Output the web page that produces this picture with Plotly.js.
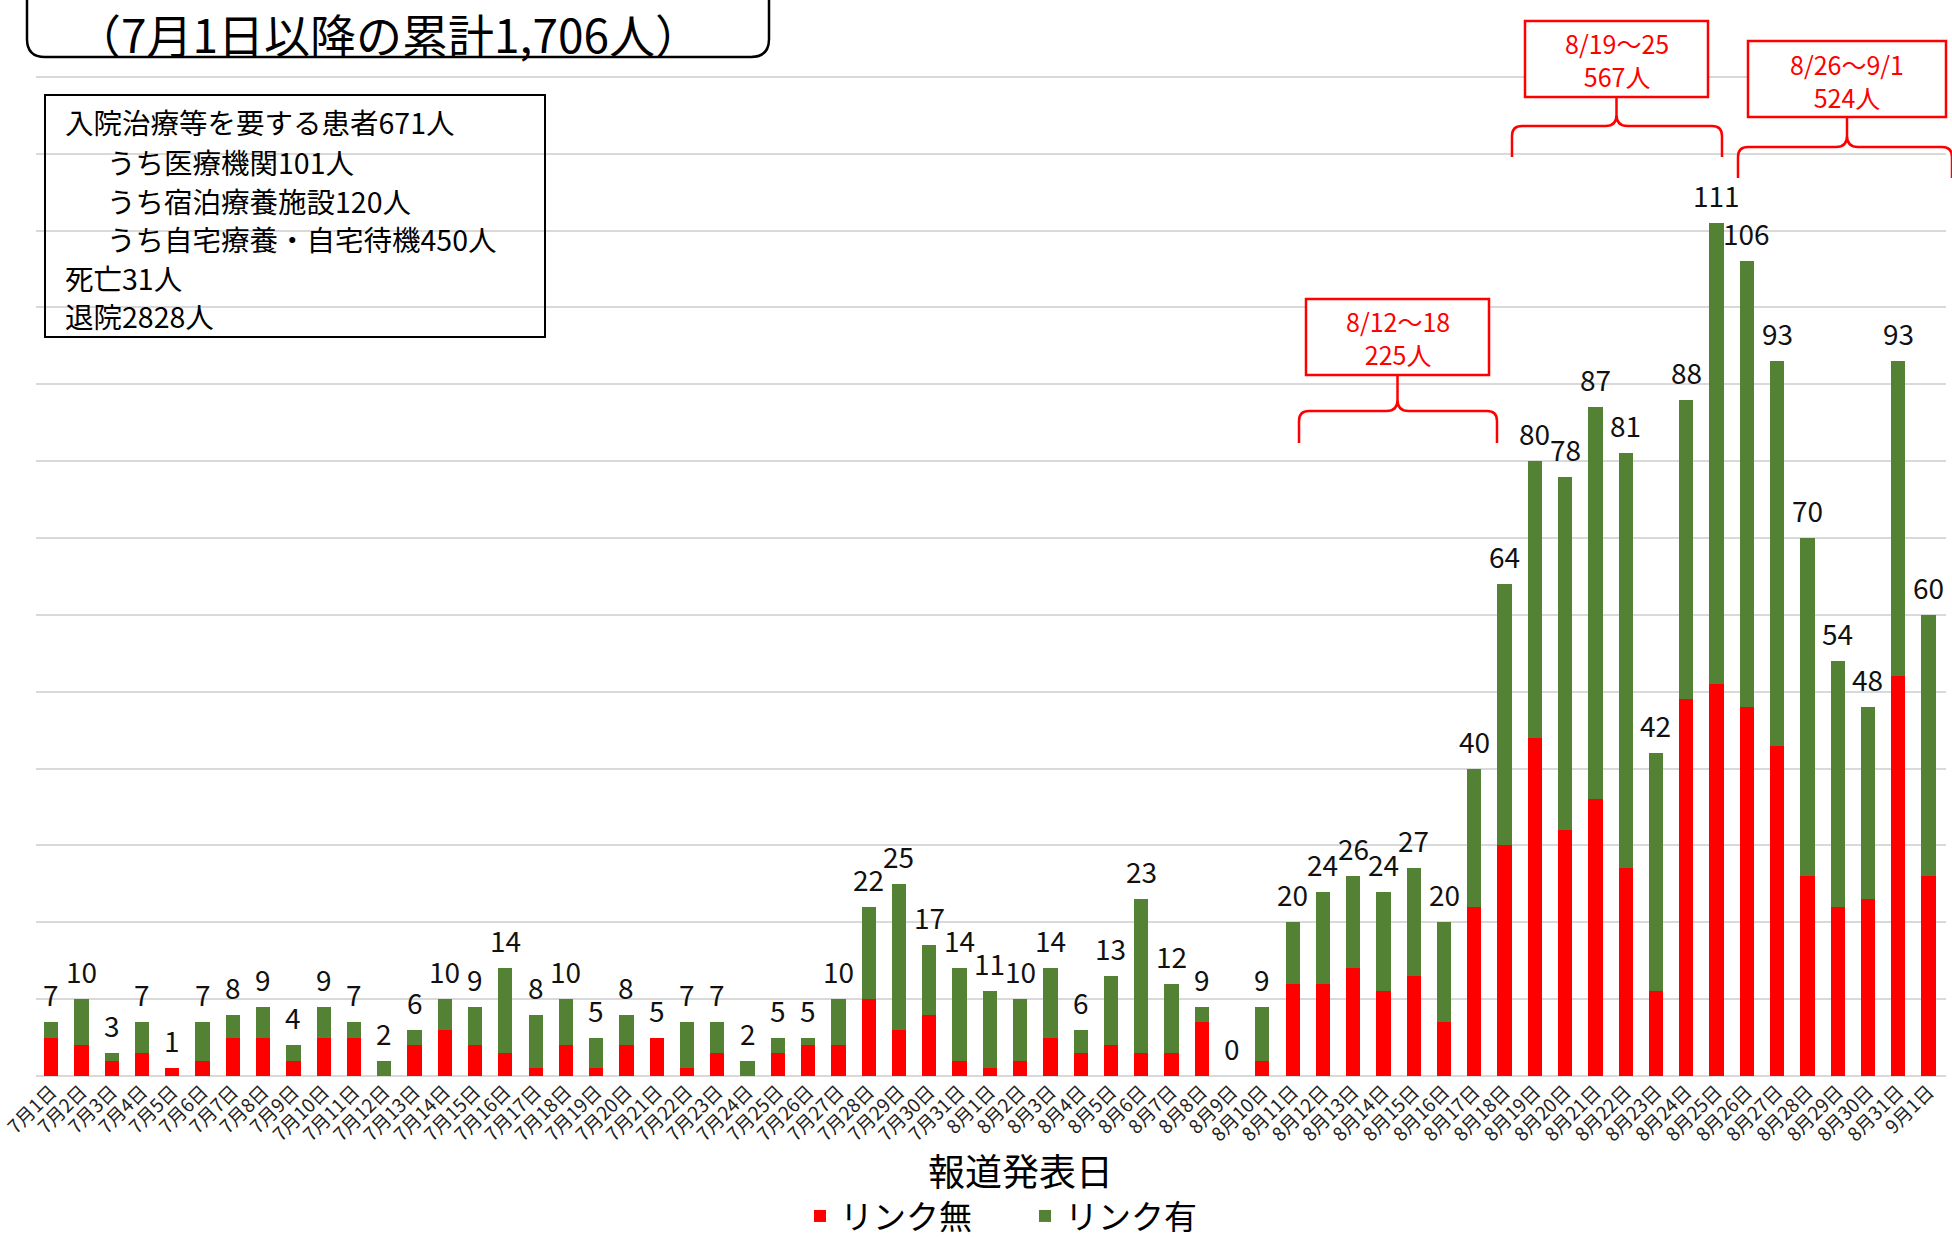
<!DOCTYPE html>
<html><head><meta charset="utf-8">
<script src="https://cdn.plot.ly/plotly-3.0.1.min.js"></script>
<style>html,body{margin:0;padding:0;background:#fff;} #chart{width:1952px;height:1239px;}</style>
</head><body><div id="chart"></div>
<script>
const dates = ["7月1日","7月2日","7月3日","7月4日","7月5日","7月6日","7月7日","7月8日","7月9日","7月10日",
"7月11日","7月12日","7月13日","7月14日","7月15日","7月16日","7月17日","7月18日","7月19日","7月20日",
"7月21日","7月22日","7月23日","7月24日","7月25日","7月26日","7月27日","7月28日","7月29日","7月30日","7月31日",
"8月1日","8月2日","8月3日","8月4日","8月5日","8月6日","8月7日","8月8日","8月9日","8月10日",
"8月11日","8月12日","8月13日","8月14日","8月15日","8月16日","8月17日","8月18日","8月19日","8月20日",
"8月21日","8月22日","8月23日","8月24日","8月25日","8月26日","8月27日","8月28日","8月29日","8月30日","8月31日",
"9月1日"];
const unlinked = [5,4,2,3,1,2,5,5,2,5, 5,0,4,6,4,3,1,4,1,4, 5,1,3,0,3,4,4,10,6,8,2,
 1,2,5,3,4,3,3,7,0,2, 12,12,14,11,13,7,22,30,44,32, 36,27,11,49,51,48,43,26,22,23,52, 26];
const linked = [2,6,1,4,0,5,3,4,2,4, 2,2,2,4,5,11,7,6,4,4, 0,6,4,2,2,1,6,12,19,9,12,
 10,8,9,3,9,20,9,2,0,7, 8,12,12,13,14,13,18,34,36,46, 51,54,31,39,60,58,50,44,32,25,41, 34];
const totals = [7,10,3,7,1,7,8,9,4,9, 7,2,6,10,9,14,8,10,5,8, 5,7,7,2,5,5,10,22,25,17,14,
 11,10,14,6,13,23,12,9,0,9, 20,24,26,24,27,20,40,64,80,78, 87,81,42,88,111,106,93,70,54,48,93, 60];
const seriesNames = ["リンク無","リンク有"];
const titleText = "（7月1日以降の累計1,706人）";
const infoLines = ["入院治療等を要する患者671人","うち医療機関101人","うち宿泊療養施設120人","うち自宅療養・自宅待機450人","死亡31人","退院2828人"];
const infoIndent = [false,true,true,true,false,false];
const weekRanges = ["8/12～18","8/19～25","8/26～9/1"];
const weekTotals = ["225人","567人","524人"];
const xTitle = "報道発表日";

// pixel geometry helpers
const L=36, R=1946, T=0, B=1076;
const px = x => (x-L)/(R-L);
const py = y => (B-y)/(B-T);
const P = (x,y) => px(x).toFixed(5)+","+py(y).toFixed(5);

const JP = "Noto Sans CJK JP, Noto Sans, sans-serif";
const RED = "#FF0000", GREEN = "#548235";

const traces = [
 {type:"bar", name:seriesNames[0], x:dates, y:unlinked, marker:{color:RED}, hoverinfo:"x+y"},
 {type:"bar", name:seriesNames[1], x:dates, y:linked, marker:{color:GREEN}, hoverinfo:"x+y"}
];

const annotations = [];
const shapes = [];

// data labels
dates.forEach((d,i)=>{
 annotations.push({x:d, y:totals[i], xref:"x", yref:"y", text:String(totals[i]), showarrow:false,
  yanchor:"middle", yshift:28, font:{family:JP, size:28, color:"#111"}});
});

// title box
const tb = {l:27, r:769, b:57, r0:18};
shapes.push({type:"path", xref:"paper", yref:"paper",
 path:"M"+P(tb.l,-20)+" L"+P(tb.l,tb.b-tb.r0)+" Q"+P(tb.l,tb.b)+" "+P(tb.l+tb.r0,tb.b)+
 " L"+P(tb.r-tb.r0,tb.b)+" Q"+P(tb.r,tb.b)+" "+P(tb.r,tb.b-tb.r0)+" L"+P(tb.r,-20),
 line:{color:"#000", width:2.5}});
annotations.push({xref:"paper", yref:"paper", x:px(388), y:py(33), text:titleText, showarrow:false,
 xanchor:"center", yanchor:"middle", font:{family:JP, size:46, color:"#000"}});

// info box
shapes.push({type:"rect", xref:"paper", yref:"paper", x0:px(45), x1:px(545), y0:py(95), y1:py(337),
 line:{color:"#000", width:2}, fillcolor:"rgba(255,255,255,0)"});
const infoY = [122,161,200,239,277,316];
infoLines.forEach((t,i)=>{
 annotations.push({xref:"paper", yref:"paper", x:px(infoIndent[i]?105:63), y:py(infoY[i]), text:t, showarrow:false,
  xanchor:"left", yanchor:"middle", font:{family:JP, size:28.5, color:"#000"}});
});

// weekly boxes with braces
const boxes = [
 {x0:1306, x1:1489, y0:299, y1:375, h:411, xl:1299, xr:1497, bot:443},
 {x0:1525, x1:1708, y0:21, y1:97, h:126, xl:1512, xr:1722, bot:157},
 {x0:1748, x1:1946, y0:41, y1:117, h:147, xl:1738, xr:1952, bot:178}
];
boxes.forEach((b,i)=>{
 const cx=(b.x0+b.x1)/2;
 shapes.push({type:"rect", xref:"paper", yref:"paper", x0:px(b.x0), x1:px(b.x1), y0:py(b.y0), y1:py(b.y1),
  line:{color:RED, width:2.5}, fillcolor:"#fff", layer:"above"});
 const r=10, s=11;
 const path = "M"+P(b.xl,b.bot)+" L"+P(b.xl,b.h+r)+" Q"+P(b.xl,b.h)+" "+P(b.xl+r,b.h)+
  " L"+P(cx-s,b.h)+" Q"+P(cx,b.h)+" "+P(cx,b.h-s)+" L"+P(cx,b.y1)+
  " M"+P(cx,b.h-s)+" Q"+P(cx,b.h)+" "+P(cx+s,b.h)+" L"+P(b.xr-r,b.h)+" Q"+P(b.xr,b.h)+" "+P(b.xr,b.h+r)+
  " L"+P(b.xr,b.bot);
 shapes.push({type:"path", xref:"paper", yref:"paper", path:path, line:{color:RED, width:2.5}});
 annotations.push({xref:"paper", yref:"paper", x:px(cx), y:py((b.y0+b.y1)/2+1), text:weekRanges[i]+"<br>"+weekTotals[i],
  showarrow:false, xanchor:"center", yanchor:"middle", align:"center", font:{family:JP, size:25, color:RED}});
});

// x-axis title
annotations.push({xref:"paper", yref:"paper", x:px(1021), y:py(1170), text:xTitle, showarrow:false,
 xanchor:"center", yanchor:"middle", font:{family:JP, size:37, color:"#000"}});

const layout = {
 width:1952, height:1239,
 margin:{l:L, r:1952-R, t:T, b:1239-B, autoexpand:false},
 paper_bgcolor:"#fff", plot_bgcolor:"#fff",
 barmode:"stack", bargap:0.53,
 font:{family:JP, color:"#000"},
 xaxis:{type:"category", tickangle:-45, showgrid:false, showline:false, ticks:"",
  tickfont:{family:JP, size:19, color:"#222"}, fixedrange:true},
 yaxis:{range:[0,140], dtick:10, showgrid:true, gridcolor:"#d9d9d9", gridwidth:2,
  zeroline:true, zerolinecolor:"#d9d9d9", zerolinewidth:2, showticklabels:false, ticks:"", fixedrange:true},
 showlegend:true,
 legend:{orientation:"h", x:px(800), xanchor:"left", y:py(1216), yanchor:"middle", entrywidth:180,
  traceorder:"normal", font:{family:JP, size:33, color:"#000"}, bgcolor:"rgba(0,0,0,0)"},
 shapes:shapes, annotations:annotations
};
Plotly.newPlot("chart", traces, layout, {displayModeBar:false, staticPlot:true});
</script></body></html>
